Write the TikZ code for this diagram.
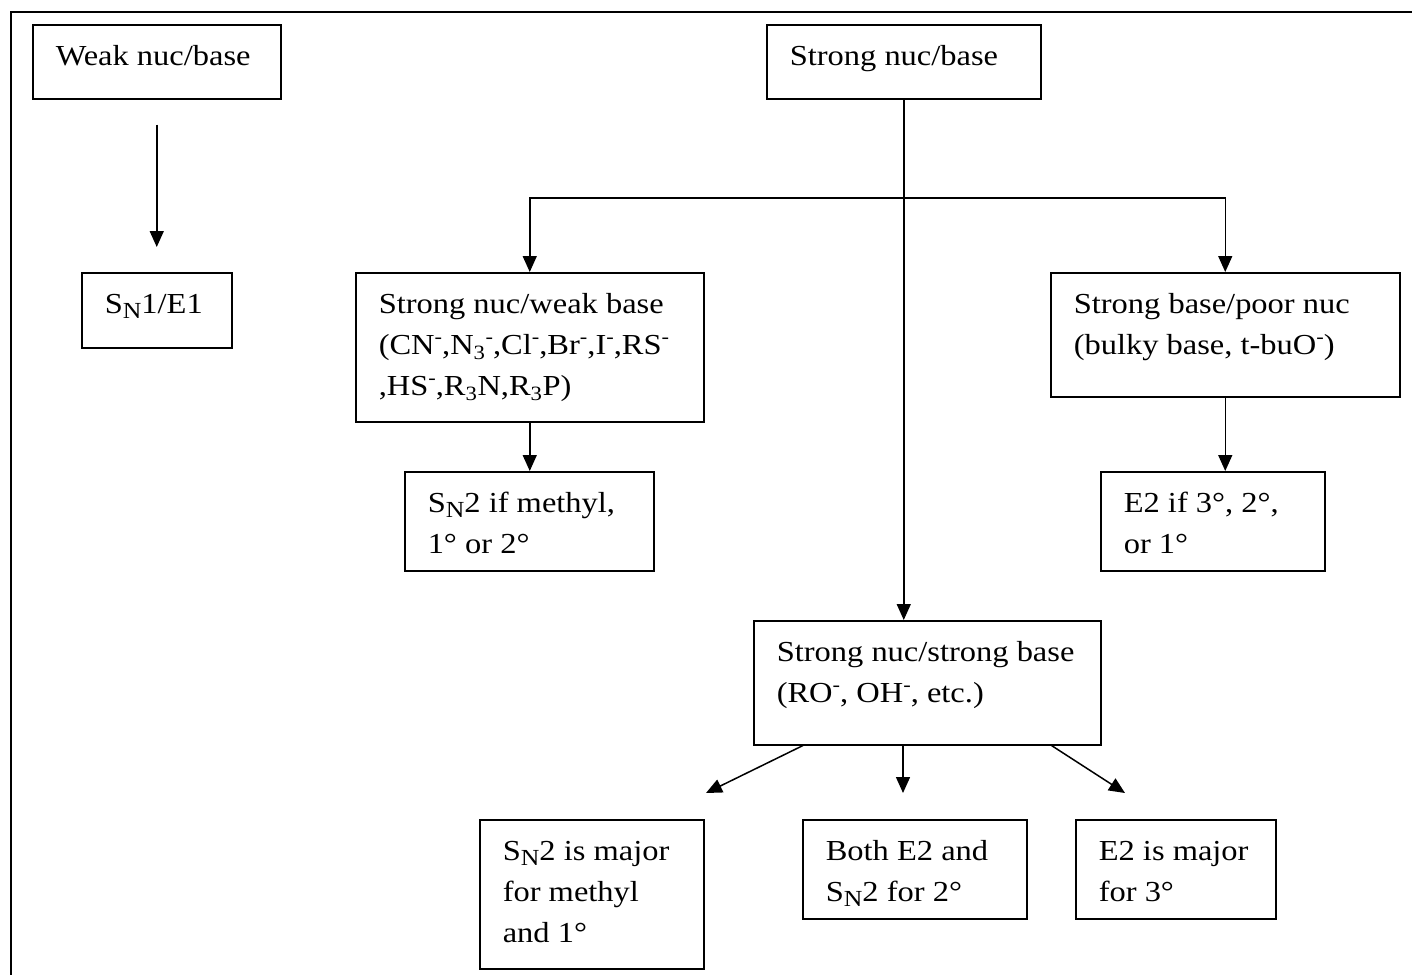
\documentclass[tikz,border=0pt]{standalone}
\usepackage{fontspec}
\setmainfont{Liberation Serif}[FakeStretch=1.12]
\usetikzlibrary{arrows.meta}
\newcommand{\bxtext}[3]{\parbox[c][#2pt][t]{#1pt}{\raggedright\leftskip=23pt\parindent=0pt\rightskip=0pt plus 1fil\baselineskip=41pt\rule{0pt}{41pt}#3}}
\newcommand{\sbN}{S\raisebox{-5pt}{\fontsize{23pt}{23pt}\selectfont N}}
\newcommand{\mns}{\raisebox{11pt}{\fontsize{20pt}{20pt}\selectfont -}}
\begin{document}
\begin{tikzpicture}[x=1pt,y=-1pt,
  bx/.style={draw, line width=1.5pt, inner sep=0pt, anchor=north west, font=\fontsize{29pt}{41pt}\selectfont},
  arr/.style={line width=1.5pt, -{Triangle[length=16pt,width=14pt]}},
  frame/.style={line width=2pt}]
\useasboundingbox (0,0) rectangle (1412,975);
\draw[frame] (1412,12) -- (11,12) -- (11,975);

\node[bx] (weak) at (32,24) {\bxtext{248}{74}{Weak nuc/base}};
\node[bx] (sn1) at (81,272) {\bxtext{150}{75}{\sbN1/E1}};
\node[bx] (strong) at (766,24) {\bxtext{274}{74}{Strong nuc/base}};
\node[bx] (snwb) at (355,272) {\bxtext{348}{149}{Strong nuc/weak base\\(CN\mns,N\textsubscript{3}\mns,Cl\mns,Br\mns,I\mns,RS\mns\\,HS\mns,R\textsubscript{3}N,R\textsubscript{3}P)}};
\node[bx] (sbpn) at (1050,272) {\bxtext{349}{124}{Strong base/poor nuc\\(bulky base, t-buO\mns)}};
\node[bx] (sn2m) at (404,471) {\bxtext{249}{99}{\sbN2 if methyl,\\1° or 2°}};
\node[bx] (e2if) at (1100,471) {\bxtext{224}{99}{E2 if 3°, 2°,\\or 1°}};
\node[bx] (snsb) at (753,620) {\bxtext{347}{124}{Strong nuc/strong base\\(RO\mns, OH\mns, etc.)}};
\node[bx] (b1) at (479,819) {\bxtext{224}{149}{\sbN2 is major\\for methyl\\and 1°}};
\node[bx] (b2) at (802,819) {\bxtext{224}{99}{Both E2 and\\\sbN2 for 2°}};
\node[bx] (b3) at (1075,819) {\bxtext{200}{99}{E2 is major\\for 3°}};

\coordinate (j) at (903,198);
\coordinate (l1) at (706,793);
\coordinate (l2) at (903,793);
\coordinate (l3) at (1125,793);

\draw[arr, shorten <=25pt, shorten >=25pt] (weak) -- (sn1);
\draw[arr] (strong.south) -- (strong.south |- snsb.north);
\draw[arr] (j) -| (snwb.north);
\draw[arr] (j) -| (sbpn.north);
\draw[arr] (snwb.south) -- (snwb.south |- sn2m.north);
\draw[arr] (sbpn.south) -- (sbpn.south |- e2if.north);
\draw[arr] ([xshift=50pt]snsb.south west) -- (l1);
\draw[arr] (snsb.south -| l2) -- (l2);
\draw[arr] ([xshift=-50pt]snsb.south east) -- (l3);
\end{tikzpicture}
\end{document}
